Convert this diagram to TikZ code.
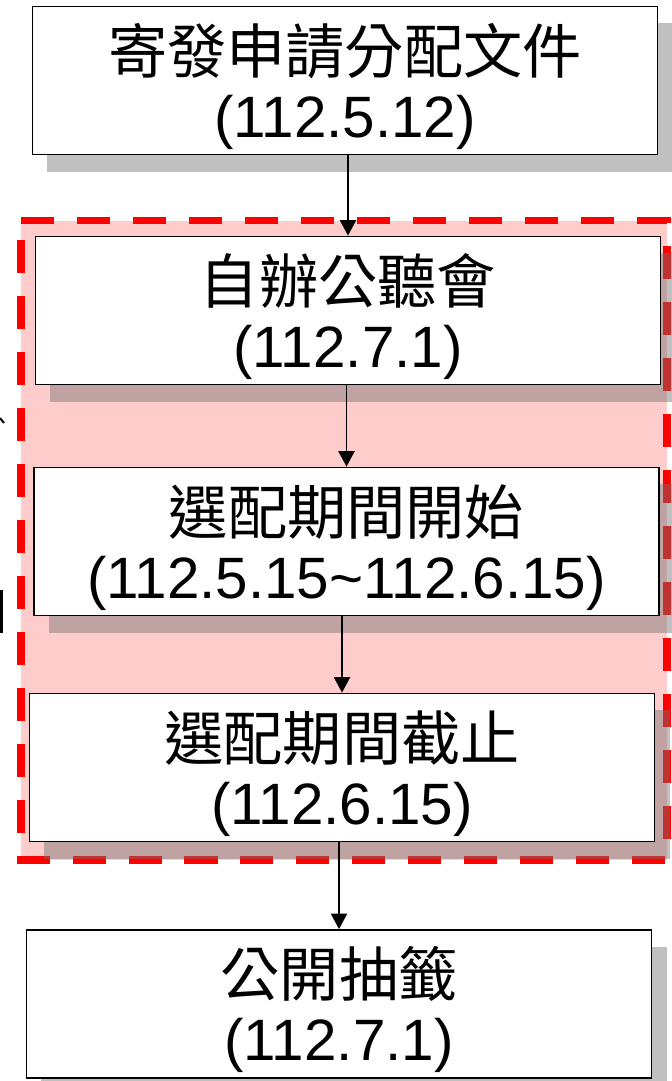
\documentclass[tikz,border=0pt]{standalone}
\usepackage{fontspec}
\setmainfont{Liberation Sans}
\newfontfamily\cjk[Scale=1.015]{Noto Sans CJK TC}
\usetikzlibrary{shadows,arrows.meta}
\definecolor{regionpink}{HTML}{FFCCCC}
\definecolor{shadowgray}{HTML}{737373}
\newcommand{\flowtext}[2]{\rule{0pt}{34.9pt}\smash{\cjk #1}\\\smash{#2}}

\begin{document}
\begin{tikzpicture}[x=0.025cm,y=-0.025cm]
	\tikzstyle{every node}=[draw,rectangle,line width=1.3pt,fill=white,minimum width=15.625cm,minimum height=3.7cm,inner sep=0pt,align=center,font=\fontsize{41.5pt}{45.5pt}\selectfont,drop shadow={shadow xshift=0.375cm,shadow yshift=-0.425cm,fill=shadowgray,opacity=0.45}]
	\tikzstyle{flow}=[line width=1.4pt,-{Triangle[width=11.5pt,length=11pt]}]
	
	\useasboundingbox (0,0) rectangle (672,1081);
	
	\draw[red,line width=5pt,dash pattern=on 23.5pt off 16.3pt,fill=regionpink] (21,220.5) -- (667,220.5) -- (667,860) -- (21,860) -- cycle;
	
	\node (send) at (345,80.5) {\flowtext{寄發申請分配文件}{(112.5.12)}};
	\node (hearing) at (348,310.5) {\flowtext{自辦公聽會}{(112.7.1)}};
	\node (selstart) at (346.5,541.5) {\flowtext{選配期間開始}{(112.5.15\textasciitilde112.6.15)}};
	\node (selend) at (342,767.5) {\flowtext{選配期間截止}{(112.6.15)}};
	\node (lottery) at (339,1004) {\flowtext{公開抽籤}{(112.7.1)}};
	
	\draw[flow] (hearing.north |- send.south) -- (hearing.north);
	\draw[flow] (selstart.north |- hearing.south) -- (selstart.north);
	\draw[flow] (selend.north |- selstart.south) -- (selend.north);
	\draw[flow] (lottery.north |- selend.south) -- (lottery.north);
	
	\draw[line width=1.4pt] (0,418) -- (4,423);
	\draw[line width=1.8pt] (1.3,590) -- (1.3,633);
	
\end{tikzpicture}
\end{document}
